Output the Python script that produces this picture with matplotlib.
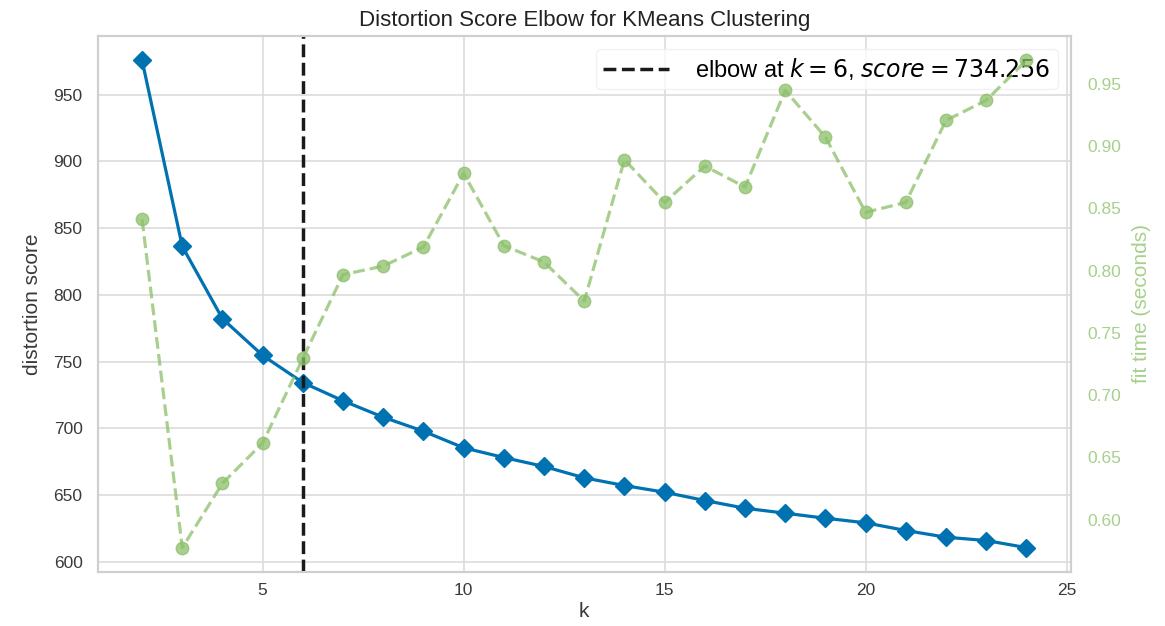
import matplotlib
matplotlib.use("Agg")
import matplotlib.pyplot as plt

plt.rcParams['font.family'] = ['Liberation Sans', 'DejaVu Sans']

k_values = list(range(2, 25))
distortion = [975.7, 836.3, 782.1, 754.6, 734.256, 720.6, 708.3, 697.8, 685.4, 678.1,
              671.4, 662.9, 657.1, 652.1, 645.9, 640.1, 636.4, 632.6, 629.2, 623.4,
              618.4, 615.9, 610.6]
fit_time = [0.841, 0.5776, 0.6292, 0.6616, 0.7295, 0.7967, 0.8036, 0.8189, 0.878, 0.820,
            0.8068, 0.7755, 0.889, 0.8547, 0.8839, 0.867, 0.9446, 0.9071, 0.8467, 0.8547,
            0.9205, 0.9366, 0.9687]
elbow_k = 6
elbow_score = 734.256
title = "Distortion Score Elbow for KMeans Clustering"
left_ticks = [600, 650, 700, 750, 800, 850, 900, 950]
right_ticks = [0.60, 0.65, 0.70, 0.75, 0.80, 0.85, 0.90, 0.95]
x_ticks = [5, 10, 15, 20, 25]

BLUE = "#0072B2"
GREEN = "#8cc06a"
GREEN_TXT = "#a6d08c"
GRID = "#dcdcdc"
TXT = "#3a3a3a"

fig = plt.figure(figsize=(11.65, 6.26), dpi=100)
ax = fig.add_axes([0.084, 0.0863, 0.835, 0.8562])
ax.set_facecolor("white")
for s in ax.spines.values():
    s.set_color("#cfcfcf")
    s.set_linewidth(1.5)
ax.grid(True, color=GRID, linewidth=1.2)
ax.set_axisbelow(True)

ax.plot(k_values, distortion, color=BLUE, marker="D", markersize=9, linewidth=2.3, zorder=3)
ax.axvline(elbow_k, color="#1a1a1a", linestyle="--", linewidth=2.5,
           label=f"elbow at $k={elbow_k}$, $score={elbow_score:0.3f}$", zorder=4)

ax.set_xticks(x_ticks)
ax.set_yticks(left_ticks)
ax.tick_params(axis='x', length=0, labelsize=12.5, labelcolor=TXT, pad=8)
ax.tick_params(axis='y', length=0, labelsize=12.5, labelcolor=TXT, pad=11)
ax.set_xlabel("k", fontsize=15, color=TXT, labelpad=3)
ax.set_ylabel("distortion score", fontsize=15, color=TXT, labelpad=8)
ax.set_title(title, fontsize=16, color="#222222", pad=7)

ax2 = ax.twinx()
ax2.plot(k_values, fit_time, color=GREEN, marker="o", markersize=9, linestyle="--",
         linewidth=2.3, alpha=0.75, label="fit time")
ax2.grid(False)
for s in ax2.spines.values():
    s.set_color("#cfcfcf")
    s.set_linewidth(1.5)
ax2.set_yticks(right_ticks)
ax2.set_yticklabels([f"{v:.2f}" for v in right_ticks])
ax2.tick_params(axis='y', length=0, labelsize=12.5, labelcolor=GREEN_TXT, pad=12)
ax2.set_ylabel("fit time (seconds)", fontsize=15, color=GREEN_TXT, labelpad=8)

leg = ax.legend(loc="upper right", fontsize=17, frameon=True, framealpha=0.8,
                edgecolor="#eeeeee", handlelength=2.8, handletextpad=1.1,
                borderpad=0.3, borderaxespad=0.55)
leg.set_zorder(10)

fig.savefig("out.png", dpi=100, facecolor="white")
